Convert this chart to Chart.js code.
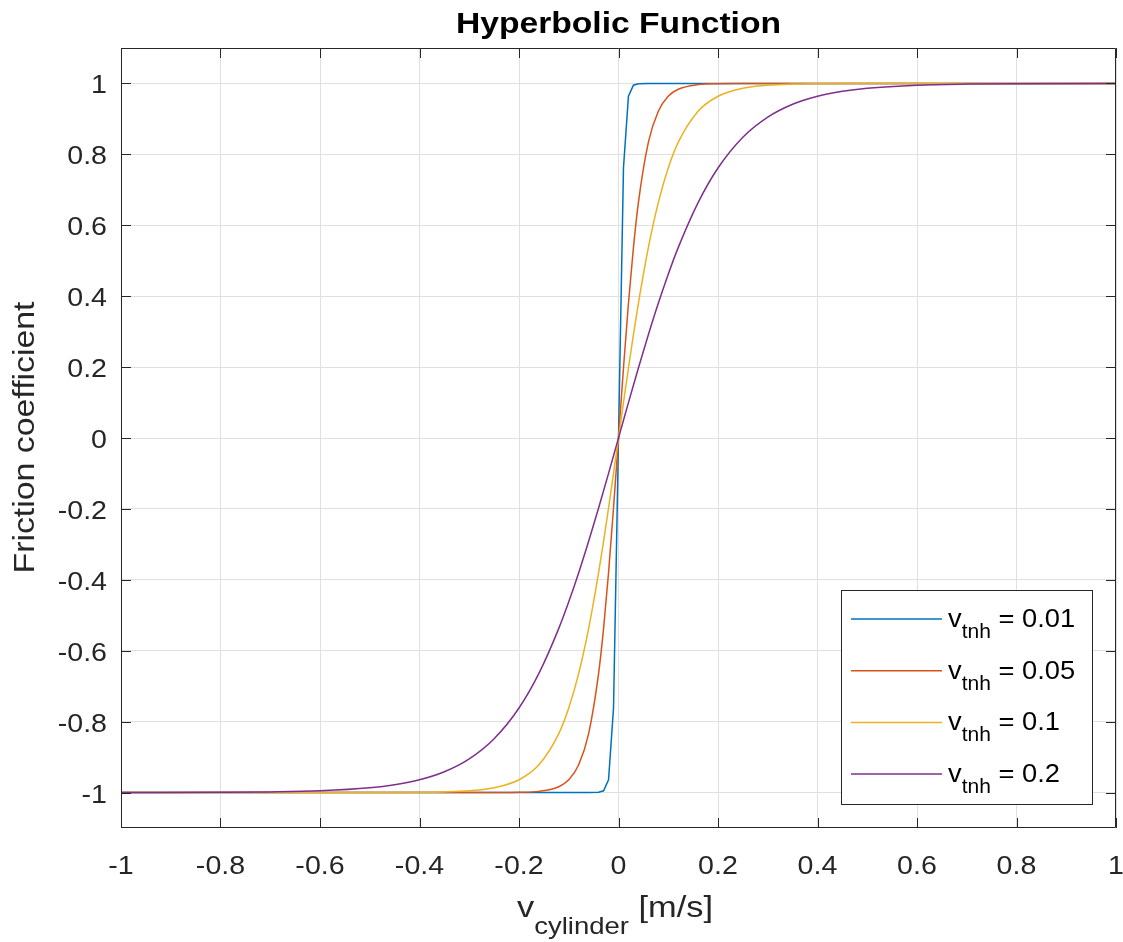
<!DOCTYPE html>
<html>
<head>
<meta charset="utf-8">
<script src="https://cdn.jsdelivr.net/npm/chart.js@4/dist/chart.umd.min.js"></script>
<style>
  body { margin: 0; background: #fff; }
  #wrap { width: 1123px; height: 942px; }
</style>
</head>
<body>
<div id="wrap"><canvas id="myChart" width="1123" height="942"></canvas></div>
<script>
// x values (v_cylinder, m/s)
const xVals = [-1, -0.8, -0.7, -0.6, -0.5, -0.45, -0.4, -0.35, -0.3, -0.25, -0.2, -0.16, -0.12, -0.1, -0.08, -0.06, -0.04, -0.03, -0.02, -0.01,
  0,
  0.01, 0.02, 0.03, 0.04, 0.06, 0.08, 0.1, 0.12, 0.16, 0.2, 0.25, 0.3, 0.35, 0.4, 0.45, 0.5, 0.6, 0.7, 0.8, 1];

// friction coefficient for each v_tnh
const fric001 = [-1, -1, -1, -1, -1, -1, -1, -1, -1, -1, -1, -1, -1, -1, -1, -1, -0.9993, -0.9951, -0.9640, -0.7616,
  0,
  0.7616, 0.9640, 0.9951, 0.9993, 1, 1, 1, 1, 1, 1, 1, 1, 1, 1, 1, 1, 1, 1, 1, 1];
const fric005 = [-1, -1, -1, -1, -1, -1, -1, -1, -1, -0.9999, -0.9993, -0.9967, -0.9837, -0.9640, -0.9217, -0.8337, -0.6640, -0.5370, -0.3799, -0.1974,
  0,
  0.1974, 0.3799, 0.5370, 0.6640, 0.8337, 0.9217, 0.9640, 0.9837, 0.9967, 0.9993, 0.9999, 1, 1, 1, 1, 1, 1, 1, 1, 1];
const fric01 = [-1, -1, -1, -1, -0.9999, -0.9998, -0.9993, -0.9982, -0.9951, -0.9866, -0.9640, -0.9217, -0.8337, -0.7616, -0.6640, -0.5370, -0.3799, -0.2913, -0.1974, -0.0997,
  0,
  0.0997, 0.1974, 0.2913, 0.3799, 0.5370, 0.6640, 0.7616, 0.8337, 0.9217, 0.9640, 0.9866, 0.9951, 0.9982, 0.9993, 0.9998, 0.9999, 1, 1, 1, 1];
const fric02 = [-0.9999, -0.9993, -0.9982, -0.9951, -0.9866, -0.9780, -0.9640, -0.9414, -0.9051, -0.8483, -0.7616, -0.6640, -0.5370, -0.4621, -0.3799, -0.2913, -0.1974, -0.1489, -0.0997, -0.0500,
  0,
  0.0500, 0.0997, 0.1489, 0.1974, 0.2913, 0.3799, 0.4621, 0.5370, 0.6640, 0.7616, 0.8483, 0.9051, 0.9414, 0.9640, 0.9780, 0.9866, 0.9951, 0.9982, 0.9993, 0.9999];

const seriesNames = ['0.01', '0.05', '0.1', '0.2'];
const seriesColors = ['#0072BD', '#D95319', '#EDB120', '#7E2F8E'];

const xTicks = [-1, -0.8, -0.6, -0.4, -0.2, 0, 0.2, 0.4, 0.6, 0.8, 1];
const xTickLabels = ['-1', '-0.8', '-0.6', '-0.4', '-0.2', '0', '0.2', '0.4', '0.6', '0.8', '1'];
const yTicks = [-1, -0.8, -0.6, -0.4, -0.2, 0, 0.2, 0.4, 0.6, 0.8, 1];
const yTickLabels = ['-1', '-0.8', '-0.6', '-0.4', '-0.2', '0', '0.2', '0.4', '0.6', '0.8', '1'];

const titleText = 'Hyperbolic Function';
const yTitle = 'Friction coefficient';

const TXT = '#262626';
const FONT = '"Liberation Sans", Arial, Helvetica, sans-serif';
const SX = 1.1;  // glyphs in the original are a bit wider than Arial

const toPoints = (ys) => xVals.map((x, i) => ({x: x, y: ys[i]}));

// draw text stretched horizontally
function wideText(ctx, txt, x, y, align, sx) {
  ctx.save();
  ctx.translate(x, y);
  ctx.scale(sx, 1);
  ctx.textAlign = align;
  ctx.fillText(txt, 0, 0);
  ctx.restore();
}

// text whose width is fitted to a target
function fitText(ctx, txt, x, y, w) {
  const m = ctx.measureText(txt).width;
  wideText(ctx, txt, x, y, 'center', w / m);
}

const decor = {
  id: 'decor',
  afterDraw(chart) {
    const ctx = chart.ctx;
    const a = chart.chartArea;
    const xs = chart.scales.x, ys = chart.scales.y;
    const TL = 10;

    ctx.save();
    // box + inward ticks
    ctx.strokeStyle = TXT;
    ctx.lineWidth = 1;
    ctx.beginPath();
    ctx.rect(a.left + 0.5, a.top + 0.5, a.right - a.left - 1, a.bottom - a.top - 1);
    xTicks.forEach(v => {
      const px = Math.round(xs.getPixelForValue(v)) + 0.5;
      ctx.moveTo(px, a.bottom); ctx.lineTo(px, a.bottom - TL);
      ctx.moveTo(px, a.top); ctx.lineTo(px, a.top + TL);
    });
    yTicks.forEach(v => {
      const py = Math.round(ys.getPixelForValue(v)) + 0.5;
      ctx.moveTo(a.left, py); ctx.lineTo(a.left + TL, py);
      ctx.moveTo(a.right, py); ctx.lineTo(a.right - TL, py);
    });
    ctx.stroke();

    // tick labels
    ctx.fillStyle = TXT;
    ctx.font = '26px ' + FONT;
    ctx.textBaseline = 'alphabetic';
    xTicks.forEach((v, i) => {
      wideText(ctx, xTickLabels[i], xs.getPixelForValue(v), 874, 'center', SX);
    });
    yTicks.forEach((v, i) => {
      wideText(ctx, yTickLabels[i], 107, ys.getPixelForValue(v) + 10, 'right', SX);
    });

    // title
    ctx.fillStyle = '#000';
    ctx.font = 'bold 30px ' + FONT;
    fitText(ctx, titleText, 618.5, 33, 325);

    // y title
    ctx.fillStyle = TXT;
    ctx.font = '29px ' + FONT;
    ctx.save();
    ctx.translate(34, 437.5);
    ctx.rotate(-Math.PI / 2);
    fitText(ctx, yTitle, 0, 0, 272);
    ctx.restore();

    // x title  v_cylinder [m/s]
    const parts = [['v', 30, 917], ['cylinder', 24, 934], [' [m/s]', 30, 917]];
    let tot = 0;
    parts.forEach(p => { ctx.font = p[1] + 'px ' + FONT; tot += ctx.measureText(p[0]).width; });
    const k = 196 / tot;
    let cx = 517;
    parts.forEach(p => {
      ctx.font = p[1] + 'px ' + FONT;
      wideText(ctx, p[0], cx, p[2], 'left', k);
      cx += ctx.measureText(p[0]).width * k;
    });

    // legend
    const L = {x: 841, y: 590, w: 251, h: 214};
    ctx.fillStyle = '#fff';
    ctx.fillRect(L.x, L.y, L.w, L.h);
    ctx.strokeStyle = TXT;
    ctx.strokeRect(L.x + 0.5, L.y + 0.5, L.w, L.h);
    seriesNames.forEach((nm, i) => {
      const ly = 619 + i * 51.7;
      ctx.strokeStyle = seriesColors[i];
      ctx.lineWidth = 1.5;
      ctx.beginPath();
      ctx.moveTo(851, ly); ctx.lineTo(942, ly);
      ctx.stroke();
      ctx.fillStyle = '#000';
      let tx = 948;
      ctx.font = '26px ' + FONT;
      wideText(ctx, 'v', tx, ly + 8, 'left', 1.05);
      tx += ctx.measureText('v').width * 1.05;
      ctx.font = '20px ' + FONT;
      wideText(ctx, 'tnh', tx, ly + 19, 'left', 1.05);
      tx += ctx.measureText('tnh').width * 1.05;
      ctx.font = '26px ' + FONT;
      wideText(ctx, ' = ' + nm, tx, ly + 8, 'left', 1.05);
    });
    ctx.restore();
  }
};

const ctx1 = document.getElementById('myChart').getContext('2d');
const allSeries = [fric001, fric005, fric01, fric02];

const chart = new Chart(ctx1, {
  type: 'line',
  data: {
    datasets: allSeries.map((ys, i) => ({
      label: 'v_tnh = ' + seriesNames[i],
      data: toPoints(ys),
      borderColor: seriesColors[i],
      borderWidth: 1.5,
      pointRadius: 0,
      fill: false,
      cubicInterpolationMode: i === 0 ? 'default' : 'monotone',
      tension: 0,
      order: 3 - i
    }))
  },
  options: {
    responsive: false,
    animation: false,
    devicePixelRatio: 1,
    layout: { padding: { left: 121, right: 7, top: 48, bottom: 114 } },
    plugins: {
      legend: { display: false },
      title: { display: false },
      tooltip: { enabled: false }
    },
    scales: {
      x: {
        type: 'linear',
        min: -1, max: 1,
        afterBuildTicks: (s) => { s.ticks = xTicks.map(v => ({value: v})); },
        afterFit: (s) => { s.height = 0; },
        ticks: { display: false },
        grid: { color: '#e0e0e0', drawTicks: false },
        border: { display: false }
      },
      y: {
        type: 'linear',
        min: -1.1, max: 1.1,
        afterBuildTicks: (s) => { s.ticks = yTicks.map(v => ({value: v})); },
        afterFit: (s) => { s.width = 0; },
        ticks: { display: false },
        grid: { color: '#e0e0e0', drawTicks: false },
        border: { display: false }
      }
    }
  },
  plugins: [decor]
});
</script>
</body>
</html>
